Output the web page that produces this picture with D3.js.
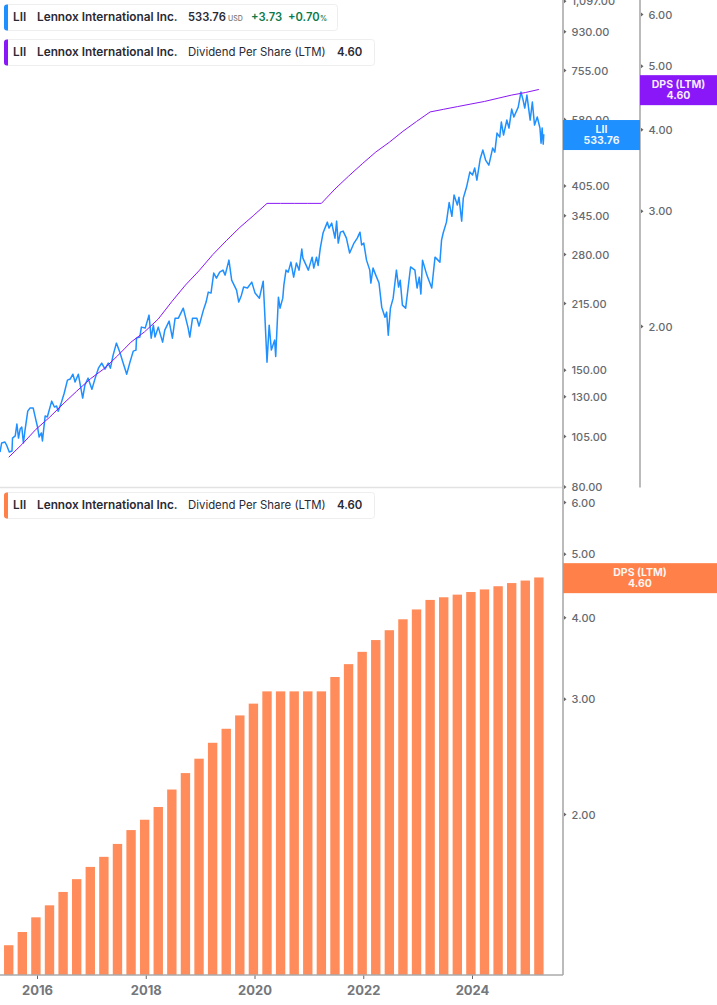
<!DOCTYPE html>
<html>
<head>
<meta charset="utf-8">
<script src="https://cdnjs.cloudflare.com/ajax/libs/d3/7.8.5/d3.min.js"></script>
<style>
  body { margin: 0; background: #fff; }
  svg { display: block; font-family: Inter, sans-serif; }
</style>
</head>
<body>
<div id="chart"></div>
<script>
// ------------ Data -----------------------------------
// quarterly trailing dividend per share
const dpsYears = [
  2015.48, 2015.73, 2015.98, 2016.23, 2016.48, 2016.73, 2016.98, 2017.23, 2017.48, 2017.73,
  2017.98, 2018.23, 2018.48, 2018.73, 2018.98, 2019.23, 2019.48, 2019.73, 2019.98, 2020.23,
  2020.48, 2020.73, 2020.98, 2021.23, 2021.48, 2021.73, 2021.98, 2022.23, 2022.48, 2022.73,
  2022.98, 2023.23, 2023.48, 2023.73, 2023.98, 2024.23, 2024.48, 2024.73, 2024.98, 2025.23
]
const dpsValues = [
  1.26, 1.32, 1.39, 1.45, 1.52, 1.59, 1.66, 1.72, 1.80, 1.89,
  1.96, 2.05, 2.18, 2.31, 2.43, 2.57, 2.70, 2.83, 2.95, 3.08,
  3.08, 3.08, 3.08, 3.08, 3.24, 3.39, 3.54, 3.69, 3.82, 3.97,
  4.11, 4.25, 4.29, 4.33, 4.37, 4.41, 4.46, 4.51, 4.55, 4.60
]

// share price, hand traced
const priceYears = [
  2015.32, 2015.35, 2015.41, 2015.44, 2015.49, 2015.54, 2015.55, 2015.60, 2015.63, 2015.66,
  2015.69, 2015.72, 2015.75, 2015.78, 2015.83, 2015.87, 2015.93, 2015.98, 2016.01, 2016.04,
  2016.08, 2016.10, 2016.15, 2016.19, 2016.27, 2016.32, 2016.36, 2016.39, 2016.45, 2016.50,
  2016.56, 2016.61, 2016.66, 2016.70, 2016.76, 2016.84, 2016.88, 2016.94, 2017.01, 2017.07,
  2017.13, 2017.19, 2017.25, 2017.31, 2017.35, 2017.40, 2017.46, 2017.53, 2017.58, 2017.65,
  2017.71, 2017.77, 2017.82, 2017.83,
  2017.89, 2017.92, 2017.99, 2018.06, 2018.10, 2018.14, 2018.17, 2018.23, 2018.31, 2018.35,
  2018.43, 2018.49, 2018.54, 2018.60, 2018.69, 2018.78, 2018.81, 2018.86, 2018.94, 2018.98,
  2019.06, 2019.11, 2019.15, 2019.20, 2019.25, 2019.30, 2019.36, 2019.42, 2019.46, 2019.53,
  2019.58, 2019.67, 2019.71, 2019.76, 2019.80, 2019.87, 2019.95, 2020.01, 2020.09, 2020.16,
  2020.19, 2020.23, 2020.27, 2020.31, 2020.37, 2020.39, 2020.44,
  2020.47, 2020.52, 2020.54, 2020.58, 2020.62, 2020.67, 2020.72, 2020.77, 2020.82, 2020.87,
  2020.89, 2020.99, 2021.06, 2021.09, 2021.14, 2021.17, 2021.21, 2021.26, 2021.34, 2021.37,
  2021.42, 2021.48, 2021.51, 2021.54, 2021.58, 2021.63, 2021.69, 2021.75, 2021.83, 2021.89,
  2021.94, 2021.97, 2022.01, 2022.06, 2022.12, 2022.14, 2022.18, 2022.23, 2022.29, 2022.34,
  2022.40, 2022.43, 2022.46, 2022.50, 2022.55, 2022.61, 2022.65, 2022.68, 2022.72, 2022.78,
  2022.82, 2022.87, 2022.95, 2022.99, 2023.03,
  2023.06, 2023.09, 2023.17, 2023.26, 2023.32, 2023.41, 2023.44, 2023.47, 2023.53, 2023.58,
  2023.63, 2023.67, 2023.73, 2023.76, 2023.81, 2023.84, 2023.90, 2023.96, 2024.01, 2024.05,
  2024.09, 2024.15, 2024.20, 2024.25, 2024.31, 2024.38, 2024.42, 2024.46, 2024.51, 2024.54,
  2024.58, 2024.64, 2024.68, 2024.73, 2024.77, 2024.85, 2024.90, 2024.94, 2024.97, 2025.01,
  2025.07, 2025.11, 2025.15, 2025.20, 2025.25, 2025.27, 2025.29, 2025.31, 2025.32
]
const priceValues = [
  96.3, 101.1, 101.6, 100, 96.3, 96.8, 103.8, 105, 112, 103.8,
  109, 110.2, 101.1, 108.4, 120, 122, 122, 114.4, 110.2, 104.4,
  106.7, 102.2, 117, 116.3, 126.7, 122.7, 123.4, 120, 126, 132.2,
  141.9, 142.7, 146.5, 140.4, 146.5, 128.8, 138, 143.4, 135.1, 143.4,
  151.3, 155.5, 150.5, 155.5, 151.3, 162.3, 173.2, 163.9, 156.3, 146.5,
  156.3, 165.9, 166.8, 177.9,
  178.9, 188.8, 187.8, 201.4, 177.9, 190.8, 178.9, 188.8, 174.1, 185.8,
  195, 177.9, 198.1, 198.1, 209.1, 187.8, 178.9, 198.1, 198.1, 189.8,
  206.9, 216.1, 228, 226.8, 252.6, 245.8, 254, 256.7, 249.9, 270.9,
  243.2, 230.5, 216.1, 224.3, 234.3, 233.1, 240.6, 226.8, 220.7, 241.9,
  201.4, 156.3, 190.8, 166.8, 176, 161.1, 221.9,
  209.1, 220.7, 236.8, 256.7, 254, 268, 247.2, 266.7, 256.7, 287.5,
  273.8, 256.7, 275.3, 259.5, 275.3, 263.3, 289, 313.5, 332.5, 322,
  330.8, 305, 334.3, 297, 315, 316.8, 305, 281.5, 297, 305,
  315, 293.9, 297, 270.9, 256.7, 239.4, 259.5, 249.9, 239.4, 210.2,
  199.2, 204.7, 180.8, 209.1, 220.7, 256.7, 234.3, 243.2, 212.6, 209.1,
  230.5, 261.1, 256.7, 233.1, 247.2,
  225.6, 270.9, 249.9, 233.1, 275.3, 268, 301.8, 313.5, 332.5, 369.4,
  343, 384.8, 364.6, 380.4, 334.3, 378.4, 401.7, 435.5, 428.5, 445,
  417, 467.1, 490.3, 464.6, 452.2, 495.6, 485, 537.4, 525.9, 570.2,
  531.8, 576.4, 552, 611.6, 586, 618.2, 670.4, 642, 614.9, 659.6,
  576.4, 635.1, 560.9, 586, 552, 509, 552, 506.3, 533.76
]

// tick labels
const priceTicks = [80, 105, 130, 150, 215, 280, 345, 405, 580, 755, 930, 1097]
const dpsTicks = [2, 3, 4, 5, 6]
const yearTicks = [2016, 2018, 2020, 2022, 2024]

// ------------ Sizes and colours --------------
const width = 717, height = 1005
const axisX = 563, axis2X = 640, splitY = 487.5, bottomY = 975
const blue = "#1e90ff", purple = "#8a17f8", orange = "#ff8049", barColor = "#ff8c5a"
const axisColor = "#aaaaaa", tickText = "#666a70", ink = "#2a2a33", green = "#0b7a4b"

const svg = d3.select("#chart").append("svg").attr("width", width).attr("height", height)

// ------------ Scales --------------
const x = d3.scaleLinear().domain([2016, 2024]).range([37, 472])
const yPrice = d3.scaleLog().domain([80, 755]).range([486.4, 70])
const yDpsTop = d3.scaleLog().domain([2, 6]).range([326, 14])
const yDpsBottom = d3.scaleLog().domain([2, 6]).range([814, 502])

// ------------ Marks --------------
const priceLine = d3.line().x(d => x(d[0])).y(d => yPrice(d[1]))
const dpsLine = d3.line().x(d => x(d[0])).y(d => yDpsTop(d[1]))

svg.append("path").datum(d3.zip(priceYears, priceValues))
  .attr("d", priceLine).attr("fill", "none")
  .attr("stroke", blue).attr("stroke-width", 1.5).attr("stroke-linejoin", "round")

svg.append("path").datum(d3.zip(dpsYears, dpsValues))
  .attr("d", dpsLine).attr("fill", "none")
  .attr("stroke", purple).attr("stroke-width", 1)

const barWidth = (x(0.25) - x(0)) * 0.69
svg.selectAll("rect.bar").data(d3.zip(dpsYears, dpsValues)).join("rect")
  .attr("class", "bar")
  .attr("x", d => x(d[0]) - barWidth / 2)
  .attr("width", barWidth)
  .attr("y", d => yDpsBottom(d[1]))
  .attr("height", d => bottomY - yDpsBottom(d[1]))
  .attr("fill", barColor)

// separator between the two panels
svg.append("line").attr("x1", 0).attr("x2", axisX).attr("y1", splitY).attr("y2", splitY)
  .attr("stroke", "#e2e2e2").attr("stroke-width", 1.5)

// ------------ Axes --------------
function styleAxis(g, textFill, fontSize, weight) {
  g.select(".domain").remove()
  g.selectAll("line").attr("stroke", "#666")
  g.selectAll("text").attr("fill", textFill).attr("font-size", fontSize).attr("font-weight", weight)
    .attr("font-family", "Inter, sans-serif")
}

// right hand value axes, the little marks are triangles in the original
function rightAxis(scale, ticks, left, top, bottom) {
  const g = svg.append("g").attr("transform", `translate(${left},0)`)
    .call(d3.axisRight(scale).tickValues(ticks).tickFormat(d3.format(",.2f")).tickSize(0).tickPadding(8.5))
  styleAxis(g, tickText, 11, 500)
  g.selectAll(".tick text").attr("y", 0.6)
  g.selectAll(".tick").append("path").attr("d", "M1,-2L3.5,0L1,2Z").attr("fill", "#666")
  svg.append("line").attr("x1", left).attr("x2", left).attr("y1", top).attr("y2", bottom)
    .attr("stroke", axisColor).attr("stroke-width", 1.6)
}
rightAxis(yPrice, priceTicks, axisX, 0, splitY)
rightAxis(yDpsTop, dpsTicks, axis2X, 0, splitY)
rightAxis(yDpsBottom, dpsTicks, axisX, splitY, bottomY)

const xAxis = svg.append("g").attr("transform", `translate(0,${bottomY})`)
  .call(d3.axisBottom(x).tickValues(yearTicks).tickFormat(d3.format("d")).tickSize(4).tickPadding(7))
styleAxis(xAxis, "#74777c", 13, 700)
svg.append("line").attr("x1", 0).attr("x2", axisX).attr("y1", bottomY).attr("y2", bottomY)
  .attr("stroke", axisColor).attr("stroke-width", 1.6)

// ------------ Value flags on the axes --------------
function flag(left, w, centerY, color, name, value) {
  const c = centerY + 0.7
  svg.append("rect").attr("x", left).attr("y", c - 15).attr("width", w).attr("height", 30).attr("fill", color)
  const t = svg.append("g").attr("text-anchor", "middle").attr("fill", "#fff")
    .attr("font-size", 10.5).attr("font-weight", 700).style("opacity", 0.92)
  t.append("text").attr("x", left + w / 2).attr("y", c - 2.2).text(name)
  t.append("text").attr("x", left + w / 2).attr("y", c + 9.3).text(value)
}
flag(axisX, axis2X - axisX, yPrice(533.76), blue, "LII", "533.76")
flag(axis2X, width - axis2X, yDpsTop(4.6), purple, "DPS (LTM)", "4.60")
flag(axisX, width - axisX, yDpsBottom(4.6), orange, "DPS (LTM)", "4.60")

// ------------ Legend boxes --------------
function legend(top, w, color, parts) {
  const g = svg.append("g").attr("transform", `translate(4,${top})`)
  g.append("rect").attr("x", 0.5).attr("y", 0.5).attr("width", w).attr("height", 26).attr("rx", 3)
    .attr("fill", "#fff").attr("stroke", "#eeeeee")
  g.append("path").attr("d", "M3,0.5H4V26.5H3A3,3 0 0 1 0,23.5V3.5A3,3 0 0 1 3,0.5Z").attr("fill", color)
  g.selectAll("text").data(parts).join("text")
    .attr("x", d => d.x - 4)
    .attr("y", 17)
    .attr("font-size", d => d.size || 11.8)
    .attr("font-weight", d => d.weight || 600)
    .attr("fill", d => d.fill || ink)
    .text(d => d.text)
}
const nameParts = [
  { x: 13, text: "LII" },
  { x: 37, text: "Lennox International Inc." }
]
const dpsParts = nameParts.concat([
  { x: 188, text: "Dividend Per Share (LTM)", weight: 400, size: 11.4 },
  { x: 337, text: "4.60", size: 11.4 }
])
legend(4, 333, blue, nameParts.concat([
  { x: 188, text: "533.76", size: 11.2 },
  { x: 228, text: "USD", size: 7, fill: "#777", weight: 500 },
  { x: 251, text: "+3.73", fill: green, size: 11.2 },
  { x: 288, text: "+0.70", fill: green, size: 11.2 },
  { x: 320, text: "%", size: 7, fill: green }
]))
legend(39, 370, purple, dpsParts)
legend(492, 370, orange, dpsParts)
</script>
</body>
</html>
